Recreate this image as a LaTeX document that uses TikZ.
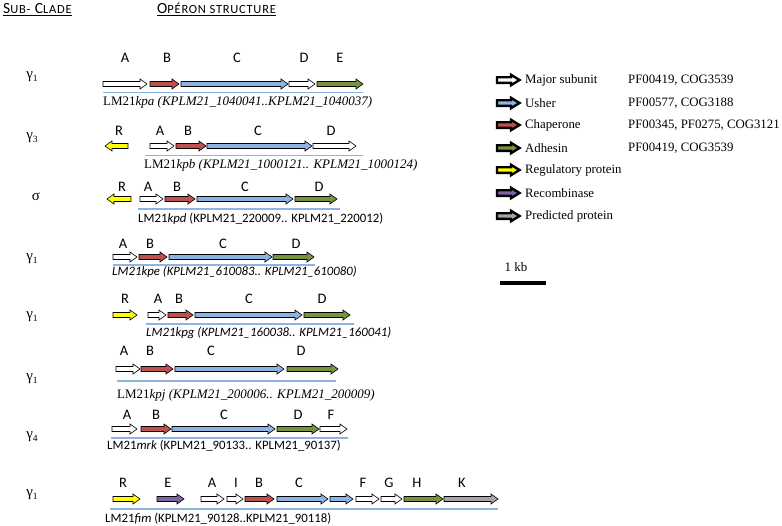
\documentclass[tikz,border=0pt]{standalone}
\usepackage{fontspec}
\setmainfont{Liberation Serif}
\newfontfamily\calfont{Carlito}
\newfontfamily\calwide{Carlito}[LetterSpace=6]
\definecolor{genered}{HTML}{C0504D}
\definecolor{geneblue}{HTML}{8DB3E2}
\definecolor{genegreen}{HTML}{77933C}
\definecolor{geneyellow}{HTML}{FFFF00}
\definecolor{genepurple}{HTML}{8064A2}
\definecolor{genegray}{HTML}{A6A6A6}
\definecolor{lineblue}{HTML}{8EB4E3}
\tikzset{
  genebody/.style={draw=black, line width=0.6pt, line join=miter},
  legbody/.style={draw=black, line width=2.4pt, line join=miter},
  genelab/.style={font=\calfont\fontsize{14.5}{16}\selectfont, inner sep=0pt},
  capserif/.style={font=\fontsize{13}{15}\selectfont, inner sep=0pt, anchor=west},
  capsans/.style={font=\calfont\fontsize{12.8}{15}\selectfont, inner sep=0pt, anchor=west},
  operonline/.style={draw=lineblue, line width=1.3pt},
  clade/.style={font=\fontsize{15}{17}\selectfont, inner sep=0pt},
  legtext/.style={font=\fontsize{12.8}{15}\selectfont, inner sep=0pt, anchor=west},
  hdr/.style={font=\calwide\fontsize{15.5}{17}\selectfont, inner sep=0pt, anchor=base west},
}
% right-pointing gene arrow: from #1 to tip #2 at height #3, fill #4
\newcommand\gR[4]{\draw[genebody, fill=#4] (#1,#3-2.5) -- (#2-7,#3-2.5) -- (#2-7,#3-5) -- (#2,#3) -- (#2-7,#3+5) -- (#2-7,#3+2.5) -- (#1,#3+2.5) -- cycle;}
% left-pointing gene arrow: tip #1, tail #2
\newcommand\gL[4]{\draw[genebody, fill=#4] (#2,#3-2.5) -- (#1+7,#3-2.5) -- (#1+7,#3-5) -- (#1,#3) -- (#1+7,#3+5) -- (#1+7,#3+2.5) -- (#2,#3+2.5) -- cycle;}
% legend arrow
\newcommand\legarrow[2]{\draw[legbody, fill=#2] (497,#1-2.8) -- (511,#1-2.8) -- (511,#1-5.2) -- (519.5,#1) -- (511,#1+5.2) -- (511,#1+2.8) -- (497,#1+2.8) -- cycle;}
\newcommand\gl[4]{\node[genelab] (#1) at (#2,#3) {#4};}
\newcommand\oline[4]{\coordinate (#1a) at (#2,#4); \coordinate (#1b) at (#3,#4); \draw[operonline] (#1a) -- (#1b);}
\newcommand\cl[1]{γ\raisebox{-2.5pt}{\fontsize{9.5}{10}\selectfont #1}}
\newcommand\fsc[1]{{\fontsize{12.5}{14}\selectfont #1}}
\begin{document}
\begin{tikzpicture}[x=1pt,y=-1pt]
\useasboundingbox (0,0) rectangle (782,525);
\fill[white] (0,0) rectangle (782,525);

% headers
\node[hdr] (hsub) at (3,13.3) {S\fsc{UB-} C\fsc{LADE}};
\draw[line width=0.8pt] ([yshift=-2pt]hsub.base west) -- ([yshift=-2pt]hsub.base east);
\node[hdr] (hop) at (157,13.3) {O\fsc{PÉRON STRUCTURE}};
\draw[line width=0.8pt] ([yshift=-2pt]hop.base west) -- ([yshift=-2pt]hop.base east);

% clade labels
\node[clade] (c1) at (32,77) {\cl{1}};
\node[clade] (c2) at (32,138) {\cl{3}};
\node[clade] (c3) at (36,197) {σ};
\node[clade] (c4) at (32,259) {\cl{1}};
\node[clade] (c5) at (32,317) {\cl{1}};
\node[clade] (c6) at (32,379) {\cl{1}};
\node[clade] (c7) at (32,437) {\cl{4}};
\node[clade] (c8) at (32,495) {\cl{1}};

% row 1 : kpa
\gl{r1A}{125}{58}{A}\gl{r1B}{167}{58}{B}\gl{r1C}{237}{58}{C}\gl{r1D}{304}{58}{D}\gl{r1E}{340}{58}{E}
\gR{103}{147}{84}{white}\gR{150}{179}{84}{genered}\gR{181}{288}{84}{geneblue}\gR{289}{315}{84}{white}\gR{317}{363}{84}{genegreen}
\oline{l1}{103}{363}{92.7}
\node[capserif] (t1) at (103,102) {LM21\textit{kpa (KPLM21\_1040041..KPLM21\_1040037)}};

% row 2 : kpb
\gl{r2R}{119}{131}{R}\gl{r2A}{160}{131}{A}\gl{r2B}{188}{131}{B}\gl{r2C}{258}{131}{C}\gl{r2D}{331}{131}{D}
\gL{105}{128}{146}{geneyellow}
\gR{150}{174}{146}{white}\gR{176}{206}{146}{genered}\gR{207}{312}{146}{geneblue}\gR{313}{356}{146}{white}
\oline{l2}{145}{363}{155.7}
\node[capserif] (t2) at (144,165) {LM21\textit{kpb (KPLM21\_1000121.. KPLM21\_1000124)}};

% row 3 : kpd
\gl{r3R}{122}{187}{R}\gl{r3A}{148}{187}{A}\gl{r3B}{177}{187}{B}\gl{r3C}{245}{187}{C}\gl{r3D}{319}{187}{D}
\gL{107}{131}{199}{geneyellow}
\gR{140}{163}{199}{white}\gR{165}{195}{199}{genered}\gR{197}{293}{199}{geneblue}\gR{295}{337}{199}{genegreen}
\oline{l3}{138}{340}{209}
\node[capsans] (t3) at (138,219) {LM21\textit{kpd} (KPLM21\_220009.. KPLM21\_220012)};

% row 4 : kpe
\gl{r4A}{123}{244}{A}\gl{r4B}{150}{244}{B}\gl{r4C}{223}{244}{C}\gl{r4D}{296}{244}{D}
\gR{113}{137}{257}{white}\gR{139}{167}{257}{genered}\gR{169}{272}{257}{geneblue}\gR{273}{314}{257}{genegreen}
\oline{l4}{113}{315}{265}
\node[capsans] (t4) at (112,272) {\itshape LM21kpe (KPLM21\_610083.. KPLM21\_610080)};

% row 5 : kpg
\gl{r5R}{125}{299}{R}\gl{r5A}{158}{299}{A}\gl{r5B}{179}{299}{B}\gl{r5C}{249}{299}{C}\gl{r5D}{322}{299}{D}
\gR{113}{137}{315}{geneyellow}
\gR{148}{166}{315}{white}\gR{168}{193}{315}{genered}\gR{195}{302}{315}{geneblue}\gR{304}{350}{315}{genegreen}
\oline{l5}{146}{354}{324}
\node[capsans] (t5) at (146,333) {\itshape LM21kpg (KPLM21\_160038.. KPLM21\_160041)};

% row 6 : kpj
\gl{r6A}{124}{351}{A}\gl{r6B}{150}{351}{B}\gl{r6C}{211}{351}{C}\gl{r6D}{301}{351}{D}
\gR{116}{140}{369}{white}\gR{141}{173}{369}{genered}\gR{175}{284}{369}{geneblue}\gR{287}{338}{369}{genegreen}
\oline{l6}{117}{336}{381}
\node[capserif] (t6) at (117,395) {LM21\textit{kpj (KPLM21\_200006.. KPLM21\_200009)}};

% row 7 : mrk
\gl{r7A}{127}{414.5}{A}\gl{r7B}{156}{414.5}{B}\gl{r7C}{224}{414.5}{C}\gl{r7D}{298}{414.5}{D}\gl{r7F}{331}{414.5}{F}
\gR{112}{137}{429}{white}\gR{141}{171}{429}{genered}\gR{172}{275}{429}{geneblue}\gR{277}{319}{429}{genegreen}\gR{320}{347}{429}{white}
\oline{l7}{111}{348}{438}
\node[capsans] (t7) at (107,446) {LM21\textit{mrk} (KPLM21\_90133.. KPLM21\_90137)};

% row 8 : fim
\gl{r8R}{123}{482.5}{R}\gl{r8E}{168}{482.5}{E}\gl{r8A}{212}{482.5}{A}\gl{r8I}{236}{482.5}{I}\gl{r8B}{259}{482.5}{B}\gl{r8C}{299}{482.5}{C}\gl{r8F}{363}{482.5}{F}\gl{r8G}{389}{482.5}{G}\gl{r8H}{417}{482.5}{H}\gl{r8K}{462}{482.5}{K}
\gR{113}{140}{499}{geneyellow}\gR{157}{184}{499}{genepurple}
\gR{201}{224}{499}{white}\gR{227}{243}{499}{white}\gR{245}{274}{499}{genered}\gR{277}{328}{499}{geneblue}\gR{330}{353}{499}{geneblue}
\gR{356}{379}{499}{white}\gR{381}{402}{499}{white}\gR{404}{443}{499}{genegreen}\gR{444}{498}{499}{genegray}
\oline{l8}{110}{498}{509}
\node[capsans] (t8) at (105,519) {LM21\textit{fim} (KPLM21\_90128..KPLM21\_90118)};

% legend
\legarrow{80}{white}\legarrow{103}{geneblue}\legarrow{125}{genered}\legarrow{148}{genegreen}
\legarrow{170}{geneyellow}\legarrow{193}{genepurple}\legarrow{216}{genegray}
\node[legtext] (k1) at (525,80) {Major subunit};
\node[legtext] (k2) at (525,103) {Usher};
\node[legtext] (k3) at (525,125) {Chaperone};
\node[legtext] (k4) at (525,148) {Adhesin};
\node[legtext] (k5) at (525,170) {Regulatory protein};
\node[legtext] (k6) at (525,193) {Recombinase};
\node[legtext] (k7) at (525,216) {Predicted protein};
\node[legtext] (p1) at (628,80) {PF00419, COG3539};
\node[legtext] (p2) at (628,103) {PF00577, COG3188};
\node[legtext] (p3) at (628,125) {PF00345, PF0275, COG3121};
\node[legtext] (p4) at (628,148) {PF00419, COG3539};

% scale bar
\node[font=\fontsize{13}{15}\selectfont, inner sep=0pt] (kb) at (516,267) {1 kb};
\coordinate (sba) at (500,283);
\coordinate (sbb) at (546,283);
\draw[line width=4pt] (sba) -- (sbb);
\end{tikzpicture}
\end{document}
